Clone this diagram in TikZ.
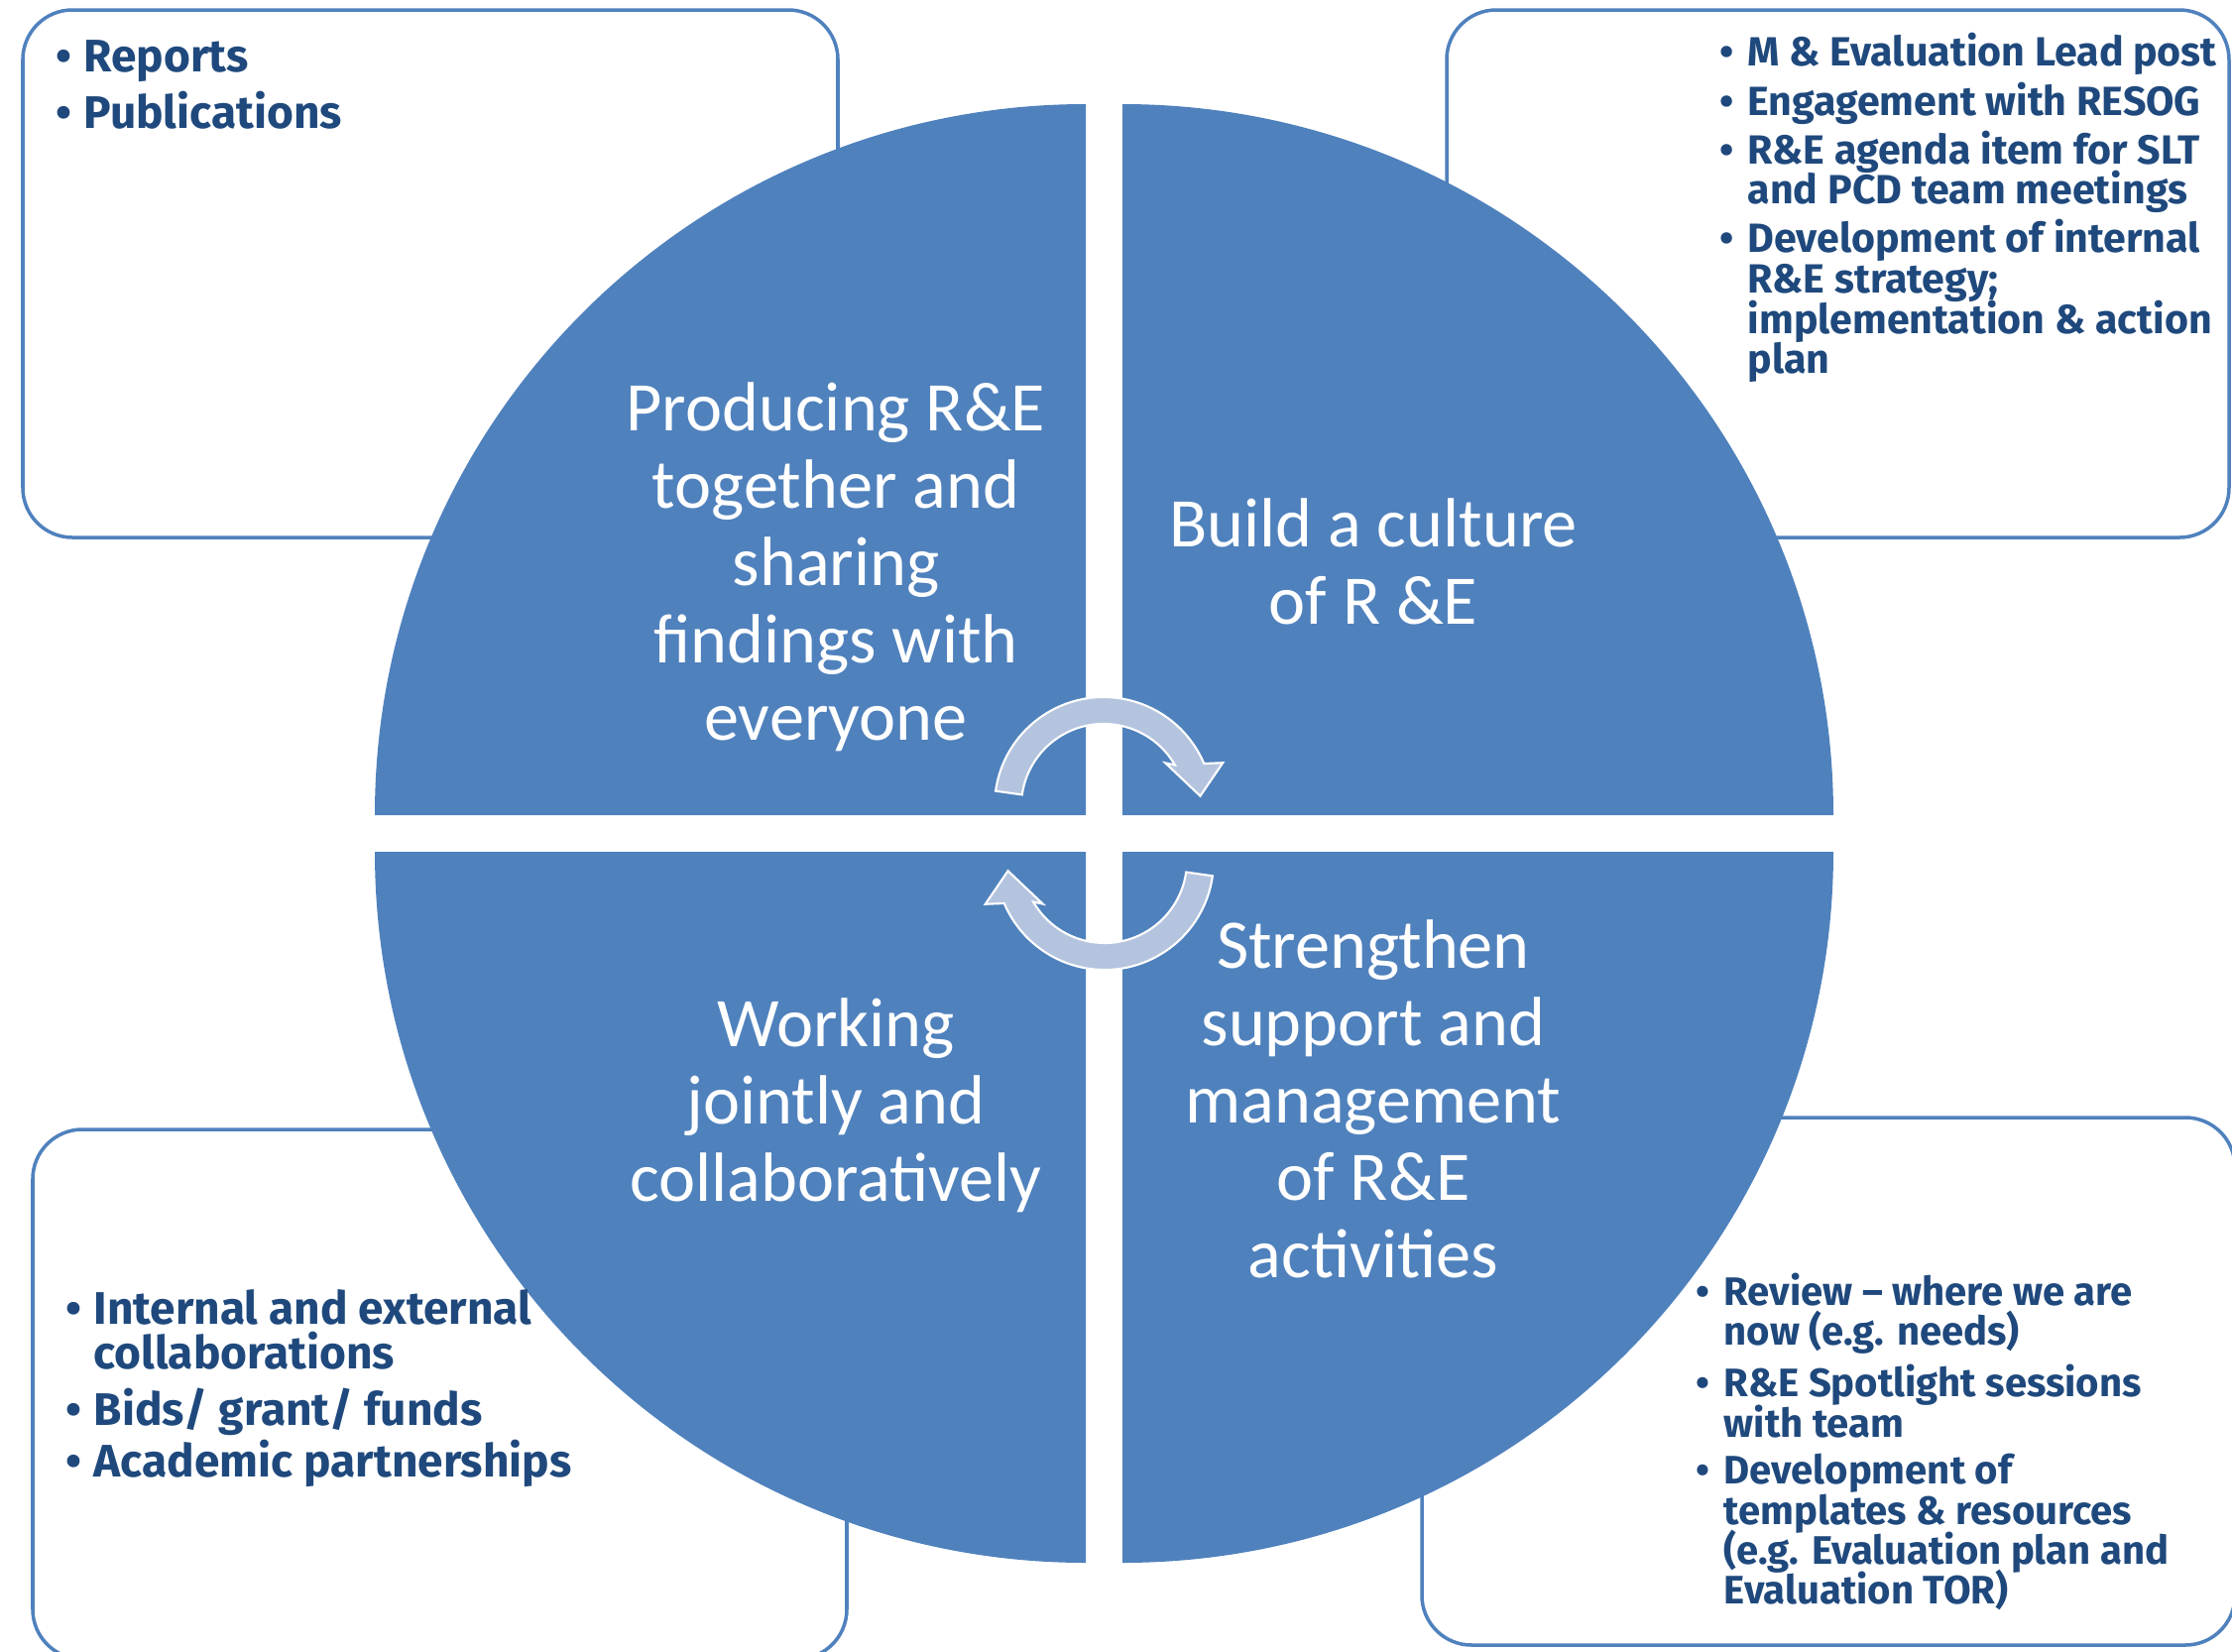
\documentclass[tikz,border=0pt]{standalone}
\usepackage{fontspec}
\setmainfont{Carlito}
\newfontfamily\boxfont{Fira Sans}
\usepackage{xcolor}

\definecolor{quadblue}{RGB}{79,129,189}
\definecolor{arrowblue}{RGB}{180,196,223}
\definecolor{navy}{RGB}{31,73,125}

\newcommand{\bul}{\makebox[2.8mm][l]{\textbullet}}
\newcommand{\ind}{\hspace*{2.8mm}}
\newcommand{\tight}{\lineskiplimit=-10pt\relax}

\begin{document}
\begin{tikzpicture}[x=0.1mm, y=0.1mm,
    infobox/.style={draw=quadblue, line width=1pt, fill=white, rounded corners=5mm},
    quad/.style={fill=quadblue},
    quadtext/.style={text=white, inner sep=0pt, anchor=base,
                     font=\fontsize{20}{22.2}\selectfont},
    boxtext/.style={text=navy, inner sep=0pt, anchor=base west}]
  \tikzset{cyclearrow/.style={fill=arrowblue, draw=white, line width=0.6pt}}

  \useasboundingbox (0,0) rectangle (2251,-1666);

  % boxes behind the circle
  \draw[infobox] (23,-10) rectangle (845,-542);
  \draw[infobox] (1459,-10) rectangle (2248,-542);
  \draw[infobox] (33,-1139) rectangle (854,-1673);
  \draw[infobox] (1434,-1127) rectangle (2254,-1659);

  % four quarters
  \fill[quad] (1095,-822) -- (378,-822) arc[start angle=180, end angle=90, radius=717] -- cycle;
  \fill[quad] (1132,-822) -- (1132,-105) arc[start angle=90, end angle=0, radius=717] -- cycle;
  \fill[quad] (1095,-859) -- (1095,-1576) arc[start angle=270, end angle=180, radius=717] -- cycle;
  \fill[quad] (1132,-859) -- (1849,-859) arc[start angle=0, end angle=-90, radius=717] -- cycle;

  % cycle arrows
  \begin{scope}[shift={(1113,-813)}]
    \path[cyclearrow] (172:110) arc[start angle=172, end angle=23, radius=110]
      -- (20:128) -- (6:98) -- (35:76) -- (30:83)
      arc[start angle=30, end angle=172, radius=83] -- cycle;
  \end{scope}
  \begin{scope}[shift={(1114,-868)}, rotate=180]
    \path[cyclearrow] (172:110) arc[start angle=172, end angle=23, radius=110]
      -- (20:128) -- (6:98) -- (35:76) -- (30:83)
      arc[start angle=30, end angle=172, radius=83] -- cycle;
  \end{scope}

  % quarter labels
  \node[quadtext] (produce) at (843,-434) {\begin{tabular}[t]{@{}c@{}}
    Producing R\&E\\ together and\\ sharing\\ findings with\\ everyone\end{tabular}};
  \node[quadtext] (culture) at (1385,-551) {\begin{tabular}[t]{@{}c@{}}
    Build a culture\\ of R \&E\end{tabular}};
  \node[quadtext] (jointly) at (843,-1055) {\begin{tabular}[t]{@{}c@{}}
    Working\\ jointly and\\ collaboratively\end{tabular}};
  \node[quadtext] (support) at (1385,-976) {\begin{tabular}[t]{@{}c@{}}
    Strengthen\\ support and\\ management\\ of R\&E\\ activities\end{tabular}};

  % box contents
  \node[boxtext, font=\boxfont\bfseries\fontsize{13.1}{16.4}\selectfont] (outputs) at (56,-72)
    {\parbox[t]{70mm}{\raggedright
    \bul Reports\\
    \bul Publications}};
  \node[boxtext, font=\boxfont\bfseries\fontsize{11.7}{11.6}\selectfont] (culturelist) at (1734,-66)
    {\parbox[t]{60mm}{\tight\raggedright
    \bul M \& Evaluation Lead post\\[1mm]
    \bul Engagement with RESOG\\[0.75mm]
    \bul R\&E agenda item for SLT\\
    \ind and PCD team meetings\\[0.8mm]
    \bul Development of internal\\
    \ind R\&E strategy;\\
    \ind implementation \& action\\
    \ind plan}};
  \node[boxtext, font=\boxfont\bfseries\fontsize{13.1}{12.8}\selectfont] (jointlist) at (66,-1335)
    {\parbox[t]{70mm}{\tight\raggedright
    \bul Internal and external\\
    \ind collaborations\\[1.3mm]
    \bul Bids/ grant/ funds\\[0.7mm]
    \bul Academic partnerships}};
  \node[boxtext, font=\boxfont\bfseries\fontsize{11.4}{11.5}\selectfont] (supportlist) at (1710,-1316)
    {\parbox[t]{60mm}{\tight\raggedright
    \bul Review – where we are\\
    \ind now (e.g. needs)\\[1.2mm]
    \bul R\&E Spotlight sessions\\
    \ind with team\\[0.7mm]
    \bul Development of\\
    \ind templates \& resources\\
    \ind (e.g. Evaluation plan and\\
    \ind Evaluation TOR)}};
\end{tikzpicture}
\end{document}
